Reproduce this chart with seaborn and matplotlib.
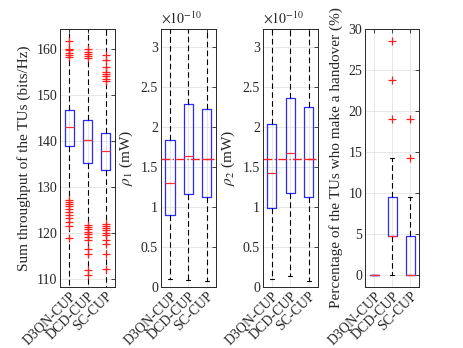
import numpy as np
import pandas as pd
import matplotlib
matplotlib.use("Agg")
import matplotlib.pyplot as plt
from matplotlib.ticker import FuncFormatter
import seaborn as sns

methods = ["D3QN-CUP", "DCD-CUP", "SC-CUP"]

# five-number summaries per method: [whisker_lo, q1, median, q3, whisker_hi]
thr_stats = {
    "D3QN-CUP": [106.0, 139.0, 143.0, 146.7, 166.0],
    "DCD-CUP": [106.0, 135.3, 140.1, 144.5, 166.0],
    "SC-CUP": [106.0, 133.8, 137.8, 141.7, 166.0],
}
thr_out_d3qn = [158.2, 158.6, 159.0, 159.8, 160.0, 161.8,
                119.0, 121.5, 122.5, 123.3, 124.0, 124.6, 125.2, 125.8, 126.3, 126.8, 127.2]
thr_out_dcd = [158.0, 158.4, 158.9, 159.4, 159.9,
               111.0, 112.0, 115.5, 116.5, 118.6, 119.2, 119.8, 120.3, 120.8, 121.3, 121.7]
thr_out_sc = [153.0, 153.5, 154.0, 154.6, 155.0, 156.0, 157.5, 158.6,
              112.2, 115.4, 117.6, 118.6, 119.5, 120.1, 120.6, 121.0, 121.5, 122.0]

rho1_stats = {
    "D3QN-CUP": [0.10e-10, 0.90e-10, 1.30e-10, 1.83e-10, 3.6e-10],
    "DCD-CUP": [0.09e-10, 1.16e-10, 1.63e-10, 2.29e-10, 3.6e-10],
    "SC-CUP": [0.07e-10, 1.12e-10, 1.60e-10, 2.22e-10, 3.6e-10],
}
rho2_stats = {
    "D3QN-CUP": [0.10e-10, 0.99e-10, 1.42e-10, 2.03e-10, 3.6e-10],
    "DCD-CUP": [0.14e-10, 1.17e-10, 1.67e-10, 2.36e-10, 3.6e-10],
    "SC-CUP": [0.08e-10, 1.12e-10, 1.60e-10, 2.25e-10, 3.6e-10],
}
rho_ref = 1.6e-10

ho_stats = {
    "D3QN-CUP": [0.0, 0.0, 0.0, 0.0, 0.0],
    "DCD-CUP": [0.0, 4.76, 4.76, 9.52, 14.29],
    "SC-CUP": [0.0, 0.0, 0.0, 4.76, 9.52],
}
ho_out_d3qn = []
ho_out_dcd = [19.05, 23.81, 28.57]
ho_out_sc = [14.29, 19.05]

ylabels = ["Sum throughput of the TUs (bits/Hz)", r"$\rho_1$ (mW)", r"$\rho_2$ (mW)",
           "Percentage of the TUs who make a handover (%)"]
ylims = [(108.3, 164.3), (0, 3.22e-10), (0, 3.22e-10), (-1.4, 30)]
yticks = [[110, 120, 130, 140, 150, 160],
          [0, 0.5e-10, 1e-10, 1.5e-10, 2e-10, 2.5e-10, 3e-10],
          [0, 0.5e-10, 1e-10, 1.5e-10, 2e-10, 2.5e-10, 3e-10],
          [0, 5, 10, 15, 20, 25, 30]]

sns.set_theme(style="white")
plt.rcParams["font.family"] = ["Liberation Serif", "DejaVu Serif"]
plt.rcParams["mathtext.fontset"] = "stix"
plt.rcParams["xtick.direction"] = "in"
plt.rcParams["ytick.direction"] = "in"

TXT = "#262626"
fig = plt.figure(figsize=(4.63, 3.48), dpi=100)
W, H = 463, 348
rects_px = [(60, 55), (160.7, 55.3), (262.7, 55), (365, 54.3)]
axes = []
for (l, w) in rects_px:
    axes.append(fig.add_axes([l / W, (H - 287) / H, w / W, (287 - 29) / H]))

def stats_df(stats):
    rows = []
    for m in methods:
        for v in stats[m]:
            rows.append((m, v))
    return pd.DataFrame(rows, columns=["method", "value"])

all_stats = [thr_stats, rho1_stats, rho2_stats, ho_stats]
all_outliers = [
    [thr_out_d3qn, thr_out_dcd, thr_out_sc],
    None, None,
    [ho_out_d3qn, ho_out_dcd, ho_out_sc],
]

sci_fmt = FuncFormatter(lambda v, p: "%g" % round(v / 1e-10, 6))

for i, ax in enumerate(axes):
    df = stats_df(all_stats[i])
    sns.boxplot(data=df, x="method", y="value", order=methods, ax=ax,
                whis=np.inf, showfliers=False, fill=False, width=0.5,
                color="blue", linewidth=0.9,
                boxprops=dict(color="#2b2bff", linewidth=0.9),
                medianprops=dict(color="#ff3030", linewidth=0.9),
                whiskerprops=dict(color="black", linestyle=(0, (5, 3)), linewidth=0.8),
                capprops=dict(color="black", linewidth=0.8),
                capwidths=0.22)
    outs = all_outliers[i]
    if outs is not None:
        xs, ys = [], []
        for k, arr in enumerate(outs):
            xs += [k] * len(arr)
            ys += list(arr)
        if xs:
            sns.scatterplot(x=xs, y=ys, ax=ax, marker="+", color="#ff2020", s=40,
                            linewidth=0.9, zorder=5, legend=False)
    if i in (1, 2):
        ax.axhline(rho_ref, color="#ff2020", linestyle="-.", linewidth=1.0, zorder=4)
    ax.set_xlim(-0.5, 2.5)
    ax.set_ylim(*ylims[i])
    ax.set_yticks(yticks[i])
    ax.set_xticks(range(len(methods)))
    ax.set_xticklabels(methods, rotation=45, ha="right", rotation_mode="anchor",
                       fontsize=10)
    ax.tick_params(axis="y", labelsize=10)
    ax.tick_params(which="both", top=True, right=True, length=3, width=0.6,
                   color=TXT, pad=2)
    ax.set_xlabel("")
    ax.set_ylabel(ylabels[i], fontsize=11, color=TXT)
    ax.grid(True, color="#e3e3e3", linewidth=0.6)
    ax.set_axisbelow(True)
    for s in ax.spines.values():
        s.set_color(TXT)
        s.set_linewidth(0.7)
    if i in (1, 2):
        ax.yaxis.set_major_formatter(sci_fmt)
        ax.text(0.0, 1.01, r"$\times10^{-10}$", transform=ax.transAxes,
                ha="left", va="bottom", fontsize=10, color=TXT)
    for lab in ax.get_xticklabels() + ax.get_yticklabels():
        lab.set_color(TXT)

fig.savefig("out.png", dpi=100)
